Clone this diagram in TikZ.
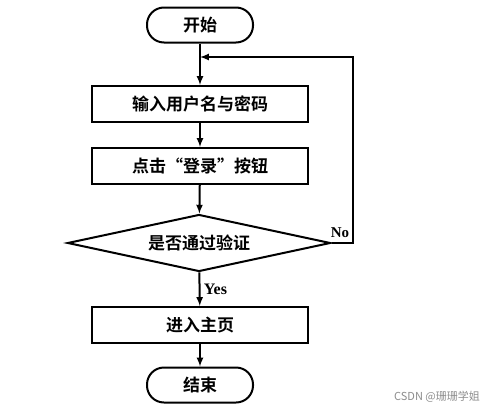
\documentclass[tikz,border=0pt]{standalone}
\usepackage{fontspec}
\setmainfont{Liberation Serif}
\newfontfamily\cjk{Noto Sans CJK SC}[BoldFont={Noto Sans CJK SC Bold}]
\usetikzlibrary{arrows,shapes.geometric}

\begin{document}
\begin{tikzpicture}[x=1pt,y=-1pt,line width=2pt,>=latex,
	term/.style={draw,rounded corners=17pt,minimum width=106pt,minimum height=35pt,font=\cjk\bfseries\fontsize{17}{20}\selectfont},
	proc/.style={draw,minimum width=216pt,minimum height=36pt,font=\cjk\bfseries\fontsize{17}{20}\selectfont},
	test/.style={draw,diamond,aspect=4.5,inner sep=0pt,minimum width=263pt,minimum height=57pt,font=\cjk\bfseries\fontsize{17}{20}\selectfont}]
	\useasboundingbox (0,0) rectangle (500,415);
	\node (start) at (200,25) [term] {开始};
	\node (input) at (200,104) [proc] {输入用户名与密码};
	\node (click) at (200,166) [proc] {点击“登录”按钮};
	\node (check) at (199,243) [test] {是否通过验证};
	\node (home) at (200,325) [proc] {进入主页};
	\node (stop) at (200,385) [term] {结束};
	\coordinate (loopin) at (200,57);
	\draw[->] (start) -- (input);
	\draw[->] (input) -- (click);
	\draw[->] (click) -- (check);
	\draw[->] (check) -- node[right,font=\bfseries\fontsize{16}{19}\selectfont]{Yes} (home);
	\draw[->] (home) -- (stop);
	\draw[->] (check.east) -- ++(21,0) |- (loopin);
	\node (no) at (340,233) [font=\bfseries\fontsize{15}{18}\selectfont] {No};
	\node (mark) at (437,397) [text=black!45,font=\cjk\fontsize{11}{13}\selectfont] {CSDN @珊珊学姐};
\end{tikzpicture}
\end{document}
